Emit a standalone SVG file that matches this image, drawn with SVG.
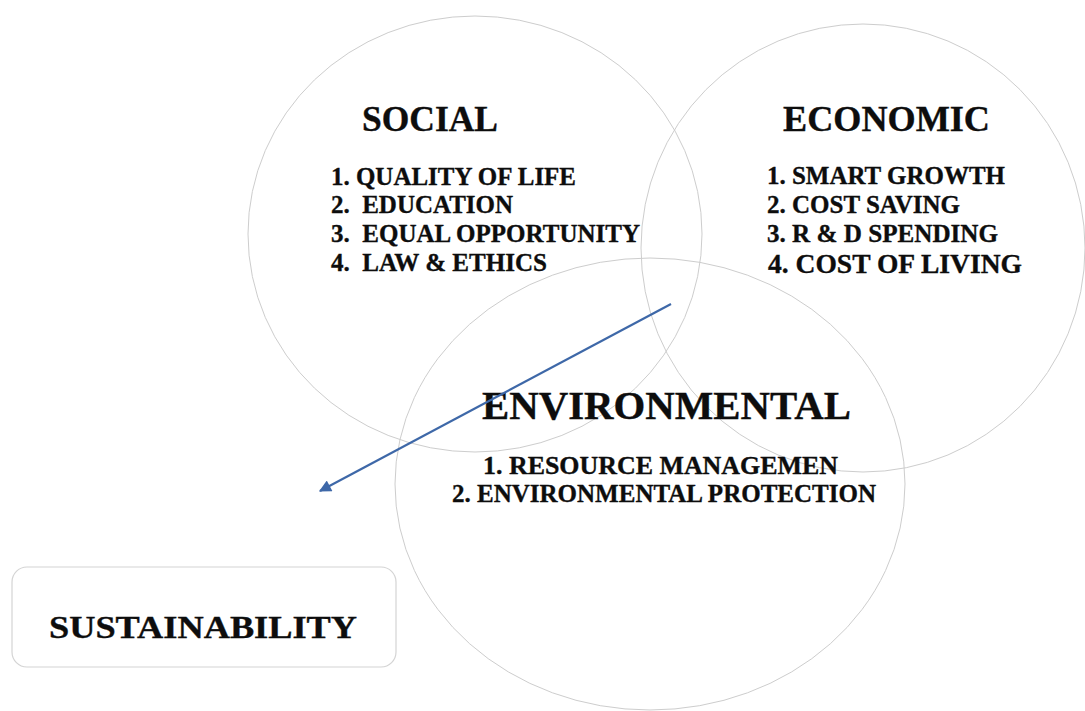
<svg xmlns="http://www.w3.org/2000/svg" width="1085" height="711" viewBox="0 0 1085 711">
  <style>
    .ring { fill: none; stroke: #cdcdcd; stroke-width: 1; }
    .box { fill: #ffffff; stroke: #d4d4d4; stroke-width: 1.2; }
    .t { font-family: "Liberation Serif", "Times New Roman", serif; font-weight: bold; fill: #0d0d0d; stroke: #0d0d0d; stroke-width: 0.35; white-space: pre; }
    .h { font-size: 35px; }
    .hl { font-size: 40px; }
    .li { font-size: 26px; }
    .link { stroke: #3e68a8; stroke-width: 2.2; fill: none; }
  </style>
  <defs>
    <marker id="arrow" viewBox="0 0 10 10" refX="9" refY="5" markerWidth="6.5" markerHeight="5.5" markerUnits="strokeWidth" orient="auto">
      <path d="M0,0 L10,5 L0,10 z" fill="#3e68a8"/>
    </marker>
  </defs>
  <rect width="1085" height="711" fill="#ffffff"/>

  <g id="social">
    <ellipse class="ring" cx="475" cy="234" rx="227" ry="218"/>
    <text class="t h" x="362" y="131" textLength="136" lengthAdjust="spacingAndGlyphs">SOCIAL</text>
    <text class="t li" x="331" y="185" textLength="245" lengthAdjust="spacingAndGlyphs">1. QUALITY OF LIFE</text>
    <text class="t li" x="331" y="213" textLength="182" lengthAdjust="spacingAndGlyphs" xml:space="preserve">2.  EDUCATION</text>
    <text class="t li" x="331" y="242" textLength="309" lengthAdjust="spacingAndGlyphs" xml:space="preserve">3.  EQUAL OPPORTUNITY</text>
    <text class="t li" x="331" y="271" textLength="216" lengthAdjust="spacingAndGlyphs" xml:space="preserve">4.  LAW &amp; ETHICS</text>
  </g>

  <g id="economic">
    <ellipse class="ring" cx="863" cy="248" rx="222" ry="224"/>
    <text class="t h" x="783" y="131" textLength="207" lengthAdjust="spacingAndGlyphs">ECONOMIC</text>
    <text class="t li" x="767" y="184" textLength="238" lengthAdjust="spacingAndGlyphs">1. SMART GROWTH</text>
    <text class="t li" x="767" y="213" textLength="193" lengthAdjust="spacingAndGlyphs">2. COST SAVING</text>
    <text class="t li" x="767" y="242" textLength="231" lengthAdjust="spacingAndGlyphs">3. R &amp; D SPENDING</text>
    <text class="t li" x="768" y="273" style="font-size:28px" textLength="254" lengthAdjust="spacingAndGlyphs">4. COST OF LIVING</text>
  </g>

  <g id="environmental">
    <ellipse class="ring" cx="650" cy="484" rx="255" ry="226"/>
    <text class="t hl" x="482" y="419" textLength="369" lengthAdjust="spacingAndGlyphs">ENVIRONMENTAL</text>
    <text class="t li" x="483" y="474" textLength="355" lengthAdjust="spacingAndGlyphs">1. RESOURCE MANAGEMEN</text>
    <text class="t li" x="452" y="502" textLength="424" lengthAdjust="spacingAndGlyphs">2. ENVIRONMENTAL PROTECTION</text>
  </g>

  <g id="sustainability">
    <rect class="box" x="12" y="567" width="384" height="100" rx="15" ry="15"/>
    <text class="t" x="49" y="638" style="font-size:32px" textLength="308" lengthAdjust="spacingAndGlyphs">SUSTAINABILITY</text>
  </g>

  <g id="connectors">
    <line class="link" x1="671" y1="304" x2="320" y2="491" marker-end="url(#arrow)"/>
  </g>
</svg>
